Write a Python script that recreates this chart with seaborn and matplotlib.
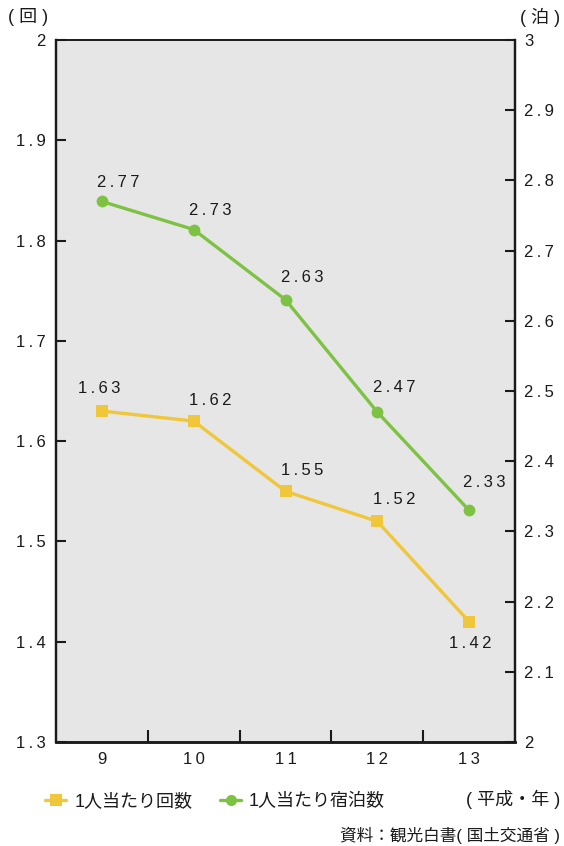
import matplotlib
matplotlib.use("Agg")
import matplotlib.pyplot as plt
import seaborn as sns
import pandas as pd
from matplotlib.lines import Line2D

sns.set_theme(style="white")
plt.rcParams['font.family'] = ['Liberation Sans', 'Noto Sans CJK JP', 'DejaVu Sans']

# 平成の年
years = [9, 10, 11, 12, 13]
# 1人当たり旅行回数（回）
trips = [1.63, 1.62, 1.55, 1.52, 1.42]
# 1人当たり宿泊数（泊）
nights = [2.77, 2.73, 2.63, 2.47, 2.33]

series_trips = "1人当たり回数"
series_nights = "1人当たり宿泊数"

yellow = "#F0C63A"
green = "#7DC243"
ink = "#1a1a1a"


def tracked(s):
    """Widen the letter spacing of a numeric label."""
    return "\u2009".join(s)


df = pd.DataFrame({"year": years, "trips": trips, "nights": nights})

fig = plt.figure(figsize=(5.64, 8.46), dpi=100)
ax = fig.add_axes([56 / 564, 1 - 742 / 846, (515 - 56) / 564, (742 - 40) / 846])
ax2 = ax.twinx()

ax.set_facecolor("#E6E6E6")
ax.set_zorder(0)
ax2.set_zorder(1)
ax2.patch.set_visible(False)

sns.lineplot(data=df, x="year", y="trips", ax=ax, color=yellow, lw=2.4,
             marker="s", markersize=9, markeredgewidth=0, zorder=3)
sns.lineplot(data=df, x="year", y="nights", ax=ax2, color=green, lw=2.4,
             marker="o", markersize=8.5, markeredgewidth=0, zorder=3)

ax.set_xlim(8.5, 13.5)
ax.set_ylim(1.3, 2.0)
ax2.set_ylim(2.0, 3.0)

fs = 12
fs_jp = 13

left_ticks = [round(1.3 + 0.1 * i, 1) for i in range(8)]
right_ticks = [round(2.0 + 0.1 * i, 1) for i in range(11)]
ax.set_yticks(left_ticks)
ax.set_yticklabels([tracked(f"{v:g}") for v in left_ticks], fontsize=fs, color=ink)
ax2.set_yticks(right_ticks)
ax2.set_yticklabels([tracked(f"{v:g}") for v in right_ticks], fontsize=fs, color=ink)

ax.set_xticks(years)
ax.set_xticklabels([tracked(str(y)) for y in years], fontsize=fs, color=ink)
ax.set_xticks([y + 0.5 for y in years[:-1]], minor=True)
ax.tick_params(axis="x", which="major", length=0, pad=7)
ax.tick_params(axis="x", which="minor", direction="in", length=9, width=1.5, color=ink, bottom=True)
ax.tick_params(axis="y", direction="in", length=7, width=1.5, color=ink, left=True, pad=7.5)
ax2.tick_params(axis="y", direction="in", length=7, width=1.5, color=ink, right=True, pad=6.5)

for a in (ax, ax2):
    a.set_xlabel("")
    a.set_ylabel("")
    a.grid(False)
    for s in a.spines.values():
        s.set_color(ink)
        s.set_linewidth(1.0)
    a.spines["left"].set_linewidth(1.6)
    a.spines["right"].set_linewidth(1.6)
    a.spines["bottom"].set_linewidth(1.8)
    a.spines["top"].set_linewidth(1.2)

# 値ラベル（ポイント単位のずらし量）
nights_offsets = [(12, 14), (12, 14), (12, 16), (12, 18), (11, 20)]
trips_offsets = [(-2, 16), (12, 15), (12, 15), (12, 16), (1, -16)]
for x, v, off in zip(years, nights, nights_offsets):
    ax2.annotate(tracked(f"{v:.2f}"), (x, v), xytext=off, textcoords="offset points",
                 ha="center", va="center", fontsize=fs, color=ink)
for x, v, off in zip(years, trips, trips_offsets):
    ax.annotate(tracked(f"{v:.2f}"), (x, v), xytext=off, textcoords="offset points",
                ha="center", va="center", fontsize=fs, color=ink)

# 単位
fig.text(8 / 564, 1 - 17 / 846, "( 回 )", fontsize=fs_jp, color=ink, va="center", ha="left")
fig.text(560 / 564, 1 - 17 / 846, "( 泊 )", fontsize=fs_jp, color=ink, va="center", ha="right")

# 凡例
handles = [
    Line2D([], [], color=yellow, lw=2.4, marker="s", markersize=8, markeredgewidth=0),
    Line2D([], [], color=green, lw=2.4, marker="o", markersize=8, markeredgewidth=0),
]
fig.legend(handles, [series_trips, series_nights], loc="center left",
           bbox_to_anchor=(29 / 564, 1 - 802 / 846), ncol=2, frameon=False,
           fontsize=fs_jp, handlelength=1.15, handletextpad=0.45, columnspacing=1.55,
           labelcolor=ink)

fig.text(560 / 564, 1 - 799 / 846, "( 平成・年 )", fontsize=fs_jp, color=ink, va="center", ha="right")
fig.text(560 / 564, 1 - 835 / 846, "資料：観光白書( 国土交通省 )", fontsize=fs, color=ink,
         va="center", ha="right")

fig.savefig("out.png", dpi=100, facecolor="white")
